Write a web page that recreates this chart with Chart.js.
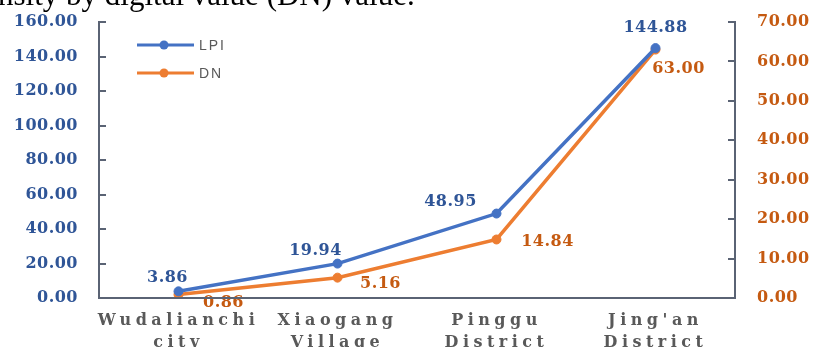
<!DOCTYPE html>
<html><head><meta charset="utf-8">
<script src="https://cdn.jsdelivr.net/npm/chart.js@4.4.0/dist/chart.umd.min.js"></script>
<style>
html,body{margin:0;padding:0;background:#fff;overflow:hidden}
#wrap{position:relative;width:814px;height:347px;overflow:hidden;background:#fff}
#cap{position:absolute;left:-2px;top:-22px;font:31px/34px "Liberation Serif",serif;color:#000;white-space:nowrap}
canvas{position:absolute;left:0;top:0}
</style></head><body>
<div id="wrap"><canvas id="c" width="814" height="347"></canvas><div id="cap">nsity by digital value (DN) value.</div></div>
<script>
// ---- data ----
const categories = [['Wudalianchi','city'],['Xiaogang','Village'],['Pinggu','District'],["Jing'an",'District']];
const seriesNames = ['LPI','DN'];
const lpiValues = [3.86, 19.94, 48.95, 144.88];
const dnValues = [0.86, 5.16, 14.84, 63.00];
const leftTickValues = [0,20,40,60,80,100,120,140,160];
const rightTickValues = [0,10,20,30,40,50,60,70];

// ---- style ----
const BLUE = '#4472C4', ORANGE = '#ED7D31';
const AXIS = '#5A6374';
const LEFT_TXT = '#2F5597', RIGHT_TXT = '#C55A11', CAT_TXT = '#595959';
const SERIF = '"DejaVu Serif", serif';
const labelOffsets = [
  [[-11,-13],[-22,-13],[-46,-12],[0,-20]],
  [[45,8],[43,6],[51,2],[23,19]]
];
const labelColors = [LEFT_TXT, RIGHT_TXT];
const legendPos = [{x:137, y:45}, {x:137, y:73}];

const deco = {
  id:'deco',
  beforeDraw(chart){ chart.ctx.letterSpacing = '0.5px'; },
  afterDatasetsDraw(chart){
    const ctx = chart.ctx;
    ctx.save();
    ctx.letterSpacing = '0.5px';
    ctx.font = 'bold 16px ' + SERIF;
    ctx.textAlign = 'center';
    ctx.textBaseline = 'middle';
    chart.data.datasets.forEach((ds, di) => {
      const meta = chart.getDatasetMeta(di);
      ctx.fillStyle = labelColors[di];
      meta.data.forEach((pt, i) => {
        const [dx, dy] = labelOffsets[di][i];
        ctx.fillText(ds.data[i].toFixed(2), pt.x + dx, pt.y + dy);
      });
    });
    // legend
    chart.data.datasets.forEach((ds, di) => {
      const p = legendPos[di];
      ctx.strokeStyle = ds.borderColor;
      ctx.lineWidth = 3;
      ctx.beginPath(); ctx.moveTo(p.x, p.y); ctx.lineTo(p.x + 57, p.y); ctx.stroke();
      ctx.fillStyle = ds.borderColor;
      ctx.beginPath(); ctx.arc(p.x + 27, p.y, 4.5, 0, Math.PI*2); ctx.fill();
      ctx.fillStyle = CAT_TXT;
      ctx.textAlign = 'left';
      ctx.letterSpacing = '2px';
      ctx.font = '14px "Liberation Sans", sans-serif';
      ctx.fillText(ds.label, p.x + 62, p.y + 1);
      ctx.letterSpacing = '0.5px';
    });
    ctx.restore();
    ctx.letterSpacing = '4.5px';
  },
  afterDraw(chart){ chart.ctx.letterSpacing = '0px'; }
};

const tickFont = {family: SERIF, weight:'bold', size:16};

new Chart(document.getElementById('c'), {
  type:'line',
  data:{
    labels: categories,
    datasets:[
      {label:seriesNames[0], data:lpiValues, yAxisID:'y', borderColor:BLUE, backgroundColor:BLUE,
       pointBackgroundColor:BLUE, pointBorderColor:BLUE, borderWidth:3.5, pointRadius:4.5, pointBorderWidth:1, tension:0},
      {label:seriesNames[1], data:dnValues, yAxisID:'y1', borderColor:ORANGE, backgroundColor:ORANGE,
       pointBackgroundColor:ORANGE, pointBorderColor:ORANGE, borderWidth:3.5, pointRadius:4.5, pointBorderWidth:1, tension:0}
    ]
  },
  options:{
    responsive:false, animation:false, devicePixelRatio:1,
    layout:{padding:{top:22,left:0,right:0,bottom:0}},
    plugins:{legend:{display:false}, tooltip:{enabled:false}, title:{display:false}},
    scales:{
      x:{type:'category', offset:true, position:'bottom',
         grid:{display:false, drawTicks:false},
         border:{display:true, color:AXIS, width:2, z:1},
         ticks:{z:1, color:CAT_TXT, font:{family:SERIF, weight:'bold', size:16, lineHeight:1.35}, padding:12, maxRotation:0, autoSkip:false},
         afterFit(s){ s.height = 49; s.paddingLeft = 0; s.paddingRight = 0; }},
      y:{position:'left', min:0, max:160,
         afterBuildTicks(s){ s.ticks = leftTickValues.map(v => ({value:v})); },
         grid:{drawOnChartArea:false, drawTicks:true, tickLength:-7, color:AXIS, lineWidth:2},
         border:{display:true, color:AXIS, width:2},
         ticks:{color:LEFT_TXT, font:tickFont, padding:28, callback:v => Number(v).toFixed(2)},
         afterFit(s){ s.width = 99; s.paddingTop = 0; s.paddingBottom = 0; }},
      y1:{position:'right', min:0, max:70,
         afterBuildTicks(s){ s.ticks = rightTickValues.map(v => ({value:v})); },
         grid:{drawOnChartArea:false, drawTicks:true, tickLength:-7, color:AXIS, lineWidth:2},
         border:{display:true, color:AXIS, width:2},
         ticks:{color:RIGHT_TXT, font:tickFont, padding:29, callback:v => Number(v).toFixed(2)},
         afterFit(s){ s.width = 79; s.paddingTop = 0; s.paddingBottom = 0; }}
    }
  },
  plugins:[deco]
});
</script>
</body></html>
